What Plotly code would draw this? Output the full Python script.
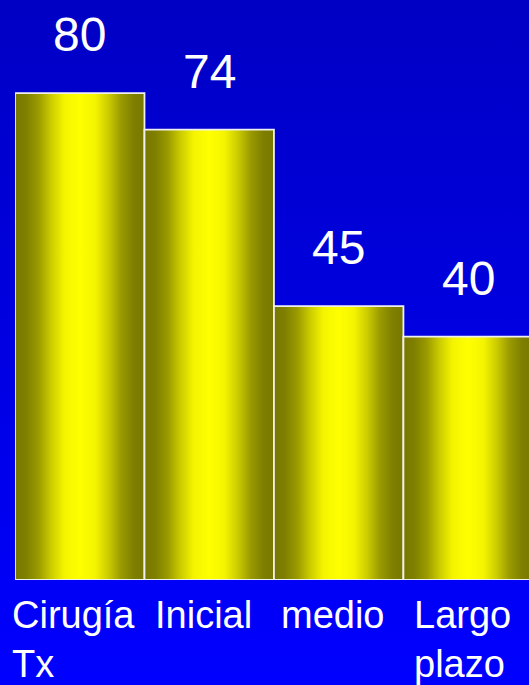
import plotly.graph_objects as go

categories = ["Cirugía<br>Tx", "Inicial", "medio", "Largo<br>plazo"]
values = [80, 74, 45, 40]
value_labels = ["80", "74", "45", "40"]

W, H = 529, 685
FONT = "Liberation Sans, Arial, sans-serif"

fig = go.Figure()

# background vertical gradient on a full-paper helper axis
fig.add_trace(go.Scatter(
    x=[0, 1, 1, 0, 0], y=[0, 0, 1, 1, 0], fill="toself", mode="lines",
    line=dict(width=0), hoverinfo="skip", showlegend=False,
    fillgradient=dict(type="vertical", start=0, stop=1,
                      colorscale=[[0, "#0000ff"], [1, "#0000c4"]]),
    xaxis="x", yaxis="y"))

bar_scale = [[0.0, "#787800"], [0.08, "#7e7e00"], [0.18, "#9a9a00"],
             [0.28, "#cccc00"], [0.38, "#f4f400"], [0.5, "#ffff00"],
             [0.62, "#f4f400"], [0.72, "#cccc00"], [0.82, "#9a9a00"],
             [0.92, "#7e7e00"], [1.0, "#787800"]]
for i, v in enumerate(values):
    x0, x1 = i - 0.5, i + 0.5
    fig.add_trace(go.Scatter(
        x=[x0, x1, x1, x0, x0], y=[0, 0, v, v, 0], fill="toself", mode="lines",
        line=dict(color="#f0f0f0", width=1.8), hoverinfo="skip", showlegend=False,
        fillgradient=dict(type="horizontal", start=x0, stop=x1, colorscale=bar_scale),
        xaxis="x2", yaxis="y2"))
    fig.add_annotation(x=i, y=v, xref="x2", yref="y2", text=value_labels[i],
                       showarrow=False, yanchor="bottom", yshift=30,
                       font=dict(family=FONT, size=48, color="white"))
    fig.add_annotation(x=i, y=105 / H, xref="x2", yref="paper", text=categories[i],
                       showarrow=False, yanchor="top", yshift=-12, xshift=-6,
                       align="left",
                       font=dict(family=FONT, size=38, color="white"))

hidden = dict(visible=False, showgrid=False, zeroline=False, fixedrange=True)
fig.update_layout(
    width=W, height=H, margin=dict(l=0, r=0, t=0, b=0),
    paper_bgcolor="#0000cc", plot_bgcolor="rgba(0,0,0,0)",
    showlegend=False,
    xaxis=dict(domain=[0, 1], range=[0, 1], **hidden),
    yaxis=dict(domain=[0, 1], range=[0, 1], **hidden),
    xaxis2=dict(domain=[15 / W, 1], range=[-0.5, 3.47], anchor="y2", **hidden),
    yaxis2=dict(domain=[105 / H, 1], range=[0, 95.3], anchor="x2", **hidden),
)

fig.write_html("out.html", config={"displayModeBar": False})
